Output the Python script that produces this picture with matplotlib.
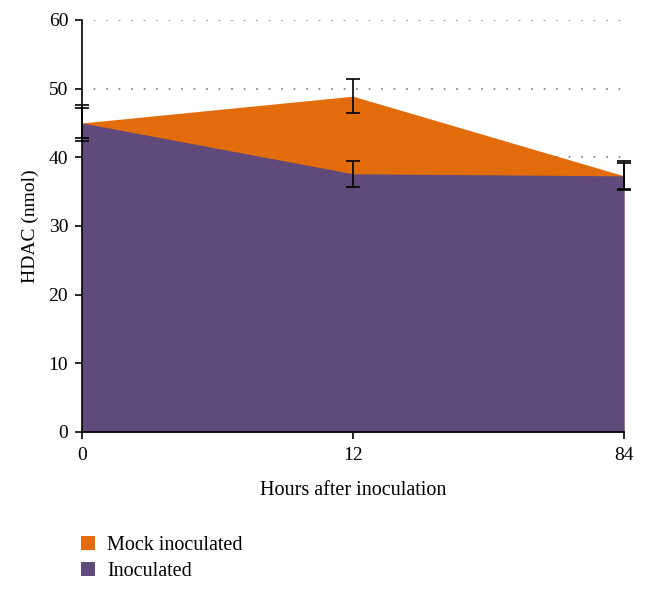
import matplotlib
matplotlib.use("Agg")
import matplotlib.pyplot as plt
from matplotlib.patches import Patch
import numpy as np

categories = ["0", "12", "84"]
mock = [45.0, 48.9, 37.3]
mock_err = [2.2, 2.5, 1.9]
inoc = [45.0, 37.6, 37.3]
inoc_err = [2.6, 1.9, 2.1]
series_names = ["Mock inoculated", "Inoculated"]

orange = "#E36C0A"
purple = "#604A7B"

plt.rcParams["font.family"] = ["Liberation Serif", "DejaVu Serif"]

fig = plt.figure(figsize=(6.46, 5.89), dpi=100)
ax = fig.add_axes([0.127, 0.2666, 0.839, 0.6995])

x = np.arange(len(categories))
ax.fill_between(x, 0, mock, color=orange, zorder=2, linewidth=0)
ax.fill_between(x, 0, inoc, color=purple, zorder=3, linewidth=0)
ax.errorbar(x, mock, yerr=mock_err, fmt="none", ecolor="black", elinewidth=1.2,
            capsize=5, capthick=1.2, zorder=5, clip_on=False)
ax.errorbar(x, inoc, yerr=inoc_err, fmt="none", ecolor="black", elinewidth=1.2,
            capsize=5, capthick=1.2, zorder=5, clip_on=False)

ax.set_xlim(0, len(categories) - 1)
ax.set_ylim(0, 60)
ax.set_yticks(np.arange(0, 61, 10))
ax.set_xticks(x)
ax.set_xticklabels(categories)
ax.yaxis.grid(True, linestyle=(8, (1.0, 6.5)), color="#777777", linewidth=1.2, zorder=1)
ax.set_axisbelow(True)
for s in ["top", "right"]:
    ax.spines[s].set_visible(False)
for s in ["left", "bottom"]:
    ax.spines[s].set_color("black")
    ax.spines[s].set_linewidth(1.2)
    ax.spines[s].set_zorder(6)
ax.tick_params(axis="both", direction="out", length=5, width=1.2, labelsize=14, colors="black")
ax.tick_params(axis="x", pad=6)
ax.tick_params(axis="y", pad=5)
ax.set_ylabel("HDAC (nmol)", fontsize=14, labelpad=7)
ax.set_xlabel("Hours after inoculation", fontsize=14.5, labelpad=12)

handles = [Patch(facecolor=orange, edgecolor="none"), Patch(facecolor=purple, edgecolor="none")]
fig.legend(handles, series_names, loc="upper left", bbox_to_anchor=(0.11, 0.107),
           frameon=False, fontsize=14.5, handlelength=0.7, handleheight=0.7,
           handletextpad=0.6, labelspacing=0.35, borderpad=0)

fig.savefig("out.png", dpi=100)
